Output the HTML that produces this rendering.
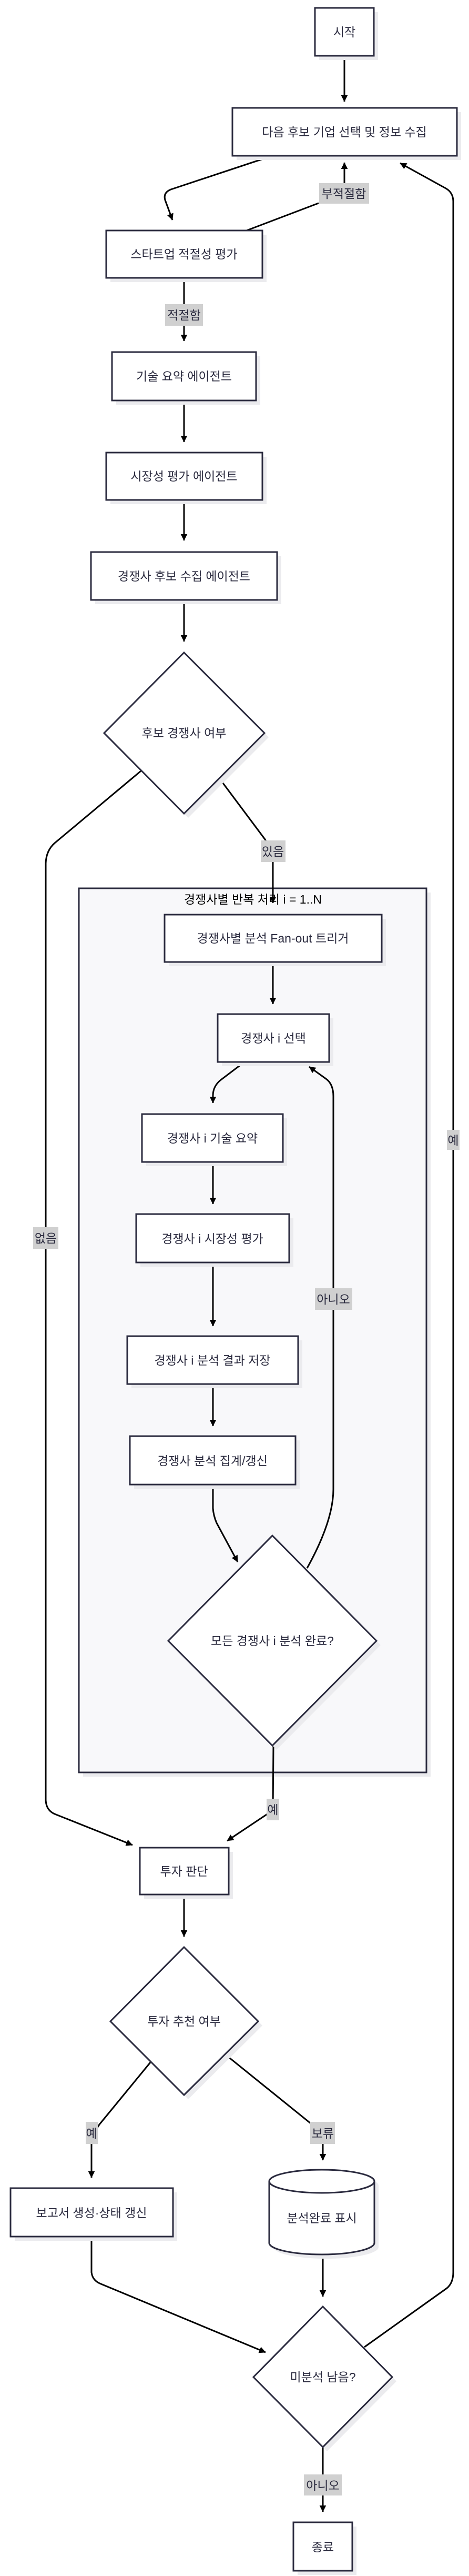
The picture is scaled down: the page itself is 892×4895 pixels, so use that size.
<!DOCTYPE html>
<html><head><meta charset="utf-8"><style>
html,body{margin:0;padding:0;background:#fff;}
svg{display:block;}
text{font-family:"Liberation Sans","Noto Sans CJK KR",sans-serif;font-size:23px;fill:#2a2a3e;}
.n{fill:#fff;stroke:#2a2a3e;stroke-width:3;}
.sh{fill:#ebebee;}
.e{fill:none;stroke:#000;stroke-width:3;}
.lb{fill:#d0d0d0;}
</style></head><body>
<svg width="892" height="4895" viewBox="0 0 892 4895" xmlns="http://www.w3.org/2000/svg">
<defs>
<marker id="a" viewBox="0 0 10 10" refX="9" refY="5" markerWidth="7" markerHeight="7" markerUnits="userSpaceOnUse" orient="auto" style="overflow:visible">
<path d="M0,0 L10,5 L0,10 z" fill="#000" transform="scale(1.8) translate(-4.5,-2.2)"/>
</marker>
</defs>

<rect x="158" y="1696" width="661" height="1680" class="sh"/>
<rect x="150" y="1688" width="661" height="1680" fill="#f8f8fa" stroke="#2a2a3e" stroke-width="3"/>
<text x="481" y="1717" text-anchor="middle" style="fill:#000;font-size:23px">경쟁사별 반복 처리 i = 1..N</text>

<path class="e" d="M655 106 L655 193" marker-end="url(#a)"/>
<path class="e" d="M518 296 L325 360 Q310 366 314 380 L328 418" marker-end="url(#a)"/>
<path class="e" d="M469 438 L606 386"/>
<path class="e" d="M655 348 L655 309" marker-end="url(#a)"/>
<path class="e" d="M350 528 L350 648" marker-end="url(#a)"/>
<path class="e" d="M350 761 L350 840" marker-end="url(#a)"/>
<path class="e" d="M350 950 L350 1027" marker-end="url(#a)"/>
<path class="e" d="M350 1140 L350 1219" marker-end="url(#a)"/>
<path class="e" d="M268 1465 L104 1602 Q88 1616 87 1640 L87 3421 Q88 3440 104 3447 L252 3506" marker-end="url(#a)"/>
<path class="e" d="M418 1480 L504 1595 L519 1620 L519 1716" marker-end="url(#a)"/>
<path class="e" d="M519 1828 L519 1908" marker-end="url(#a)"/>
<path class="e" d="M465 2018 L420 2052 Q405 2064 405 2082 L405 2096" marker-end="url(#a)"/>
<path class="e" d="M405 2208 L405 2288" marker-end="url(#a)"/>
<path class="e" d="M405 2399 L405 2520" marker-end="url(#a)"/>
<path class="e" d="M405 2630 L405 2710" marker-end="url(#a)"/>
<path class="e" d="M405 2821 L405 2866 Q406 2880 412 2894 L452 2968" marker-end="url(#a)"/>
<path class="e" d="M584 2980 Q634 2890 634 2830 L634 2083 Q634 2060 620 2050 L588 2027" marker-end="url(#a)"/>
<path class="e" d="M520 3317 L519 3440 L432 3498" marker-end="url(#a)"/>
<path class="e" d="M350 3600 L350 3680" marker-end="url(#a)"/>
<path class="e" d="M286 3919 L189 4037 L174 4060 L174 4138" marker-end="url(#a)"/>
<path class="e" d="M431 3906 L591 4035 L614 4050 L614 4105" marker-end="url(#a)"/>
<path class="e" d="M174 4250 L174 4318 Q176 4334 192 4340 L505 4470" marker-end="url(#a)"/>
<path class="e" d="M614 4283 L614 4364" marker-end="url(#a)"/>
<path class="e" d="M614 4650 L614 4773" marker-end="url(#a)"/>
<path class="e" d="M693 4460 L850 4348 Q862 4338 862 4318 L862 383 Q862 366 848 358 L761 310" marker-end="url(#a)"/>

<g>
<rect x="607" y="23" width="112" height="91" class="sh"/><rect x="599" y="15" width="112" height="91" class="n"/>
<text x="655" y="69" text-anchor="middle">시작</text>

<rect x="450" y="213" width="427" height="91" class="sh"/><rect x="442" y="205" width="427" height="91" class="n"/>
<text x="655" y="259" text-anchor="middle">다음 후보 기업 선택 및 정보 수집</text>

<rect x="210" y="446" width="297" height="90" class="sh"/><rect x="202" y="438" width="297" height="90" class="n"/>
<text x="350" y="491" text-anchor="middle">스타트업 적절성 평가</text>

<rect x="221" y="677" width="274" height="92" class="sh"/><rect x="213" y="669" width="274" height="92" class="n"/>
<text x="350" y="723" text-anchor="middle">기술 요약 에이전트</text>

<rect x="210" y="868" width="297" height="90" class="sh"/><rect x="202" y="860" width="297" height="90" class="n"/>
<text x="350" y="913" text-anchor="middle">시장성 평가 에이전트</text>

<rect x="181" y="1057" width="354" height="91" class="sh"/><rect x="173" y="1049" width="354" height="91" class="n"/>
<text x="350" y="1103" text-anchor="middle">경쟁사 후보 수집 에이전트</text>

<polygon points="358,1248 511,1401 358,1554 206,1401" class="sh"/>
<polygon points="350,1240 503,1393 350,1546 198,1393" class="n"/>
<text x="350" y="1401" text-anchor="middle">후보 경쟁사 여부</text>

<rect x="321" y="1746" width="413" height="90" class="sh"/><rect x="313" y="1738" width="413" height="90" class="n"/>
<text x="519" y="1791" text-anchor="middle">경쟁사별 분석 Fan-out 트리거</text>

<rect x="422" y="1935" width="212" height="91" class="sh"/><rect x="414" y="1927" width="212" height="91" class="n"/>
<text x="520" y="1981" text-anchor="middle">경쟁사 i 선택</text>

<rect x="278" y="2125" width="268" height="91" class="sh"/><rect x="270" y="2117" width="268" height="91" class="n"/>
<text x="404" y="2171" text-anchor="middle">경쟁사 i 기술 요약</text>

<rect x="267" y="2315" width="291" height="92" class="sh"/><rect x="259" y="2307" width="291" height="92" class="n"/>
<text x="404" y="2362" text-anchor="middle">경쟁사 i 시장성 평가</text>

<rect x="250" y="2547" width="325" height="91" class="sh"/><rect x="242" y="2539" width="325" height="91" class="n"/>
<text x="404" y="2593" text-anchor="middle">경쟁사 i 분석 결과 저장</text>

<rect x="255" y="2737" width="315" height="92" class="sh"/><rect x="247" y="2729" width="315" height="92" class="n"/>
<text x="404" y="2784" text-anchor="middle">경쟁사 분석 집계/갱신</text>

<polygon points="526,2926 724,3126 526,3325 328,3126" class="sh"/>
<polygon points="518,2918 716,3118 518,3317 320,3118" class="n"/>
<text x="518" y="3126" text-anchor="middle">모든 경쟁사 i 분석 완료?</text>

<rect x="274" y="3519" width="169" height="89" class="sh"/><rect x="266" y="3511" width="169" height="89" class="n"/>
<text x="350" y="3564" text-anchor="middle">투자 판단</text>

<polygon points="358,3708 499,3849 358,3989 218,3849" class="sh"/>
<polygon points="350,3700 491,3841 350,3981 210,3841" class="n"/>
<text x="350" y="3849" text-anchor="middle">투자 추천 여부</text>

<rect x="28" y="4166" width="309" height="92" class="sh"/><rect x="20" y="4158" width="309" height="92" class="n"/>
<text x="174" y="4213" text-anchor="middle">보고서 생성·상태 갱신</text>

<path d="M520 4153 A100 22 0 0 1 720 4153 L720 4270 A100 22 0 0 1 520 4270 Z" class="sh"/>
<path d="M512 4145 A100 22 0 0 1 712 4145 L712 4262 A100 22 0 0 1 512 4262 Z" class="n"/>
<path d="M512 4145 A100 22 0 0 0 712 4145" fill="none" stroke="#2a2a3e" stroke-width="3"/>
<text x="612" y="4223" text-anchor="middle">분석완료 표시</text>

<polygon points="622,4391 754,4525 622,4658 490,4525" class="sh"/>
<polygon points="614,4383 746,4517 614,4650 482,4517" class="n"/>
<text x="614" y="4525" text-anchor="middle">미분석 남음?</text>

<rect x="566" y="4801" width="112" height="92" class="sh"/><rect x="558" y="4793" width="112" height="92" class="n"/>
<text x="614" y="4848" text-anchor="middle">종료</text>
</g>

<rect x="607" y="348" width="95" height="39" class="lb"/><text x="654" y="376" text-anchor="middle">부적절함</text>
<rect x="314" y="578" width="72" height="41" class="lb"/><text x="350" y="607" text-anchor="middle">적절함</text>
<rect x="496" y="1597" width="47" height="41" class="lb"/><text x="519" y="1626" text-anchor="middle">있음</text>
<rect x="63" y="2332" width="48" height="41" class="lb"/><text x="87" y="2361" text-anchor="middle">없음</text>
<rect x="599" y="2448" width="71" height="41" class="lb"/><text x="634" y="2477" text-anchor="middle">아니오</text>
<rect x="850" y="2147" width="24" height="38" class="lb"/><text x="862" y="2175" text-anchor="middle">예</text>
<rect x="507" y="3418" width="24" height="41" class="lb"/><text x="519" y="3447" text-anchor="middle">예</text>
<rect x="163" y="4032" width="23" height="42" class="lb"/><text x="174" y="4062" text-anchor="middle">예</text>
<rect x="590" y="4032" width="47" height="42" class="lb"/><text x="614" y="4062" text-anchor="middle">보류</text>
<rect x="578" y="4702" width="72" height="40" class="lb"/><text x="614" y="4731" text-anchor="middle">아니오</text>
</svg>
</body></html>
